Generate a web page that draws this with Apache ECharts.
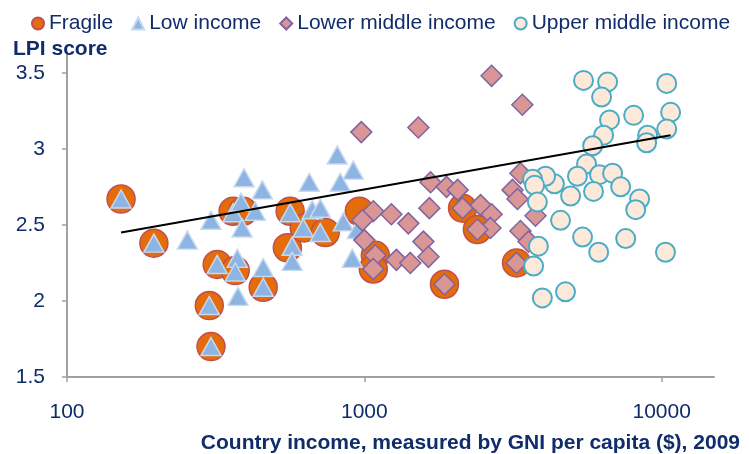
<!DOCTYPE html>
<html>
<head>
<meta charset="utf-8">
<script src="https://cdn.jsdelivr.net/npm/echarts@6/dist/echarts.min.js"></script>
<style>
  html, body { margin: 0; padding: 0; background: #fff; }
  #chart { width: 749px; height: 454px; }
</style>
</head>
<body>
<div id="chart"></div>
<script>
// series names, ticks
const seriesNames = ['Fragile', 'Low income', 'Lower middle income', 'Upper middle income']
const xTicks = [100, 1000, 10000]
const yTicks = [1.5, 2, 2.5, 3, 3.5]

// [GNI per capita, LPI score]
const fragile = [[152, 2.67], [196, 2.38], [320, 2.24], [301, 1.97], [305, 1.70], [362, 2.59], [391, 2.59],
  [368, 2.20], [457, 2.09], [551, 2.35], [563, 2.59], [628, 2.48], [739, 2.45], [962, 2.59], [1089, 2.30],
  [1072, 2.21], [1860, 2.11], [2140, 2.61], [2400, 2.47], [3250, 2.25]]

const lowIncome = [[152, 2.67], [196, 2.38], [254, 2.40], [305, 2.53], [320, 2.24], [301, 1.97], [305, 1.70],
  [362, 2.58], [385, 2.65], [394, 2.81], [454, 2.73], [430, 2.59], [388, 2.48], [374, 2.28], [368, 2.19],
  [457, 2.22], [457, 2.09], [376, 2.03], [563, 2.58], [653, 2.78], [811, 2.96], [918, 2.86], [830, 2.78],
  [668, 2.60], [711, 2.61], [623, 2.48], [711, 2.45], [572, 2.36], [572, 2.26], [850, 2.52], [911, 2.28],
  [947, 2.47]]

const lowerMiddle = [[2680, 3.48], [3400, 3.29], [977, 3.11], [1520, 3.14], [1670, 2.78], [1890, 2.75],
  [2060, 2.73], [1655, 2.61], [1072, 2.59], [1233, 2.57], [1406, 2.51], [985, 2.53], [1000, 2.40],
  [1089, 2.30], [1072, 2.21], [1282, 2.27], [1428, 2.25], [1580, 2.39], [1643, 2.29], [1860, 2.11],
  [2140, 2.61], [2460, 2.63], [2680, 2.57], [2656, 2.48], [2400, 2.47], [3350, 2.84], [3150, 2.73],
  [3275, 2.67], [3765, 2.56], [3350, 2.46], [3566, 2.39], [3250, 2.25]]

const upperMiddle = [[5460, 3.45], [6580, 3.44], [6280, 3.34], [10400, 3.43], [10720, 3.24], [8050, 3.22],
  [6680, 3.19], [6380, 3.09], [5860, 3.02], [8970, 3.09], [8900, 3.04], [10400, 3.13], [5590, 2.90],
  [5210, 2.82], [6180, 2.83], [6840, 2.84], [7280, 2.75], [5900, 2.72], [4940, 2.69], [4360, 2.77],
  [4070, 2.82], [3680, 2.80], [3740, 2.76], [3820, 2.65], [4570, 2.53], [8430, 2.67], [8180, 2.60],
  [5420, 2.42], [7570, 2.41], [6140, 2.32], [10300, 2.32], [3850, 2.36], [3710, 2.23], [3970, 2.02],
  [4750, 2.06]]

// trend line end points
const trend = [[152, 2.45], [10720, 3.09]]

const navy = '#102c6a'
const axisGray = '#a0a0a0'
const font = 'Liberation Sans, Arial, sans-serif'

var chart = echarts.init(document.getElementById('chart'))
chart.setOption({
  animation: false,
  textStyle: { fontFamily: font },
  title: [
    { text: 'LPI score', left: 8, top: 34, textStyle: { color: navy, fontSize: 21, fontWeight: 'bold', fontFamily: font } },
    { text: 'Country income, measured by GNI per capita ($), 2009', right: 4, top: 428,
      textStyle: { color: navy, fontSize: 21, fontWeight: 'bold', fontFamily: font } }
  ],
  legend: {
    data: seriesNames,
    left: 26,
    top: 8,
    width: 745,
    itemWidth: 12,
    itemHeight: 12,
    itemGap: 18,
    textStyle: { color: navy, fontSize: 21, fontFamily: font }
  },
  grid: { left: 67, right: 35, top: 53, bottom: 77 },
  xAxis: {
    type: 'log',
    logBase: 10,
    min: 100,
    max: 15000,
    axisLine: { lineStyle: { color: axisGray, width: 2 } },
    axisTick: { show: true, inside: false, length: 5, customValues: xTicks, lineStyle: { color: axisGray, width: 1.5 } },
    axisLabel: {
      customValues: xTicks,
      margin: 25,
      color: navy,
      fontSize: 21,
      fontFamily: font,
      formatter: function(value) {
        return String(Math.round(value))
      }
    },
    splitLine: { show: false }
  },
  yAxis: {
    type: 'value',
    min: 1.5,
    max: 3.63,
    interval: 0.5,
    axisLine: { show: true, lineStyle: { color: axisGray, width: 2 } },
    axisTick: { show: true, length: 5, customValues: yTicks, lineStyle: { color: axisGray, width: 1.5 } },
    axisLabel: { customValues: yTicks, margin: 22, color: navy, fontSize: 21, fontFamily: font },
    splitLine: { show: false }
  },
  series: [
    {
      name: 'Fragile',
      type: 'scatter',
      symbol: 'circle',
      symbolSize: 28,
      itemStyle: { color: '#e46c0a', borderColor: '#c0504d', borderWidth: 1.5, opacity: 1 },
      data: fragile
    },
    {
      name: 'Low income',
      type: 'scatter',
      symbol: 'triangle',
      symbolSize: [20, 18],
      itemStyle: { color: '#8db4e2', borderColor: '#c6d9f1', borderWidth: 1.5, opacity: 1 },
      data: lowIncome
    },
    {
      name: 'Lower middle income',
      type: 'scatter',
      symbol: 'diamond',
      symbolSize: [21, 21],
      itemStyle: { color: '#d99694', borderColor: '#8064a2', borderWidth: 1.5, opacity: 1 },
      data: lowerMiddle
    },
    {
      name: 'Upper middle income',
      type: 'scatter',
      symbol: 'circle',
      symbolSize: 19,
      itemStyle: { color: '#fde9d9', borderColor: '#4bacc6', borderWidth: 2, opacity: 1 },
      data: upperMiddle
    },
    {
      name: 'trend',
      type: 'line',
      symbol: 'none',
      silent: true,
      lineStyle: { color: '#000', width: 2 },
      data: trend
    }
  ]
})
</script>
</body>
</html>
